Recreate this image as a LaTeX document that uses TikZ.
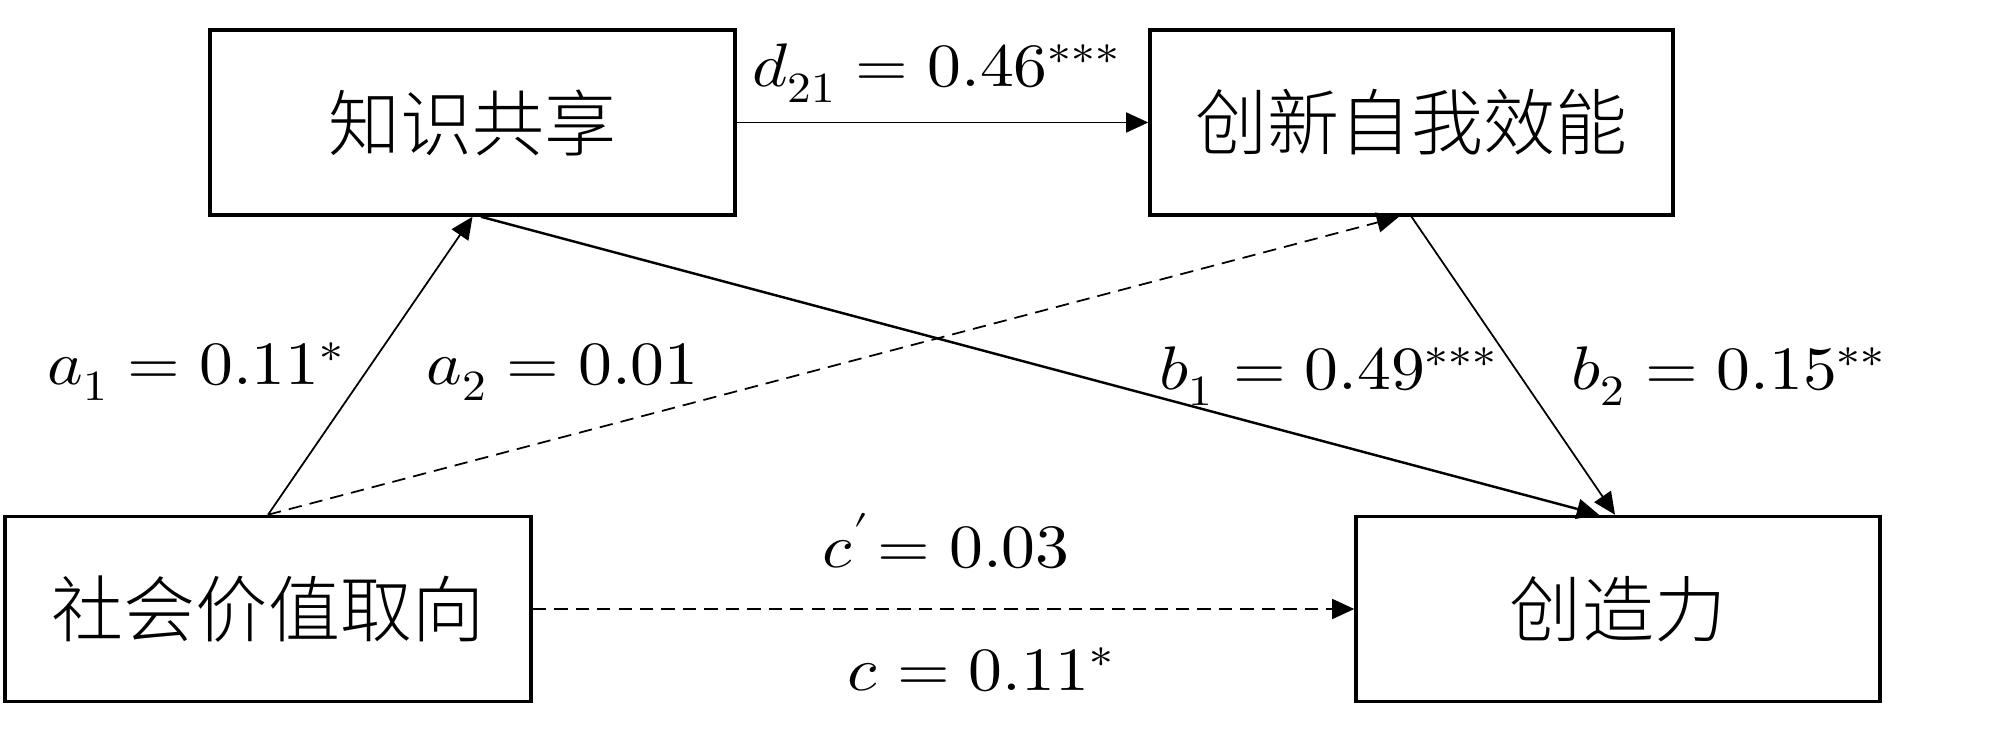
\documentclass[tikz,border=0pt]{standalone}
\usepackage{fontspec}
\usepackage{unicode-math}
\setmathfont{Latin Modern Math}
\usepackage{graphicx}
\newfontfamily\cjk{Noto Sans CJK SC}[UprightFont=* Light]
\usetikzlibrary{arrows.meta,calc}
\begin{document}
\begin{tikzpicture}[x=0.2845pt,y=-0.2845pt,
  box/.style={draw,line width=1pt,minimum width=#1*0.2845pt,minimum height=185*0.2845pt,
    inner sep=0pt,font=\cjk\fontsize{20.5}{24}\selectfont},
  lbl/.style={anchor=base west,inner sep=0pt,font=\fontsize{17.5}{20}\selectfont},
  arr/.style={line width=0.5pt,-{Triangle[length=6.3pt,width=5.7pt]}},
  dsh/.style={arr,dash pattern=on 3.8pt off 2.3pt}]
\useasboundingbox (0,0) rectangle (2000,731);
\node[box=525] (A) at (472.5,122.5) {知识共享};
\node[box=523] (B) at (1411.5,122.5) {创新自我效能};
\node[box=526] (C) at (268,609) {社会价值取向};
\node[box=524] (D) at (1618,609) {创造力};
\draw[arr] (A.east) -- (B.west);
\draw[arr] (C.north) -- (A.south);
\draw[dsh] (C.north) -- ($(B.south)+(-12.5,0)$);
\draw[arr,line width=0.7pt] ($(A.south)+(8.5,0)$) -- ($(D.north)+(-19,0)$);
\draw[arr] (B.south) -- ($(D.north)+(-3,0)$);
\draw[dsh] (C.east) -- (D.west);
\node[lbl] (ld) at (752,87) {\scalebox{1.1}[1]{$d_{21} = 0.46^{***}$}};
\node[lbl] (la1) at (47,385) {\scalebox{1.1}[1]{$a_{1} = 0.11^{*}$}};
\node[lbl] (la2) at (426,385) {\scalebox{1.1}[1]{$a_{2} = 0.01$}};
\node[lbl] (lb1) at (1159,390) {\scalebox{1.1}[1]{$b_{1} = 0.49^{***}$}};
\node[lbl] (lb2) at (1571,390) {\scalebox{1.1}[1]{$b_{2} = 0.15^{**}$}};
\node[lbl] (lc1) at (822,568) {\scalebox{1.1}[1]{$c'\!= 0.03$}};
\node[lbl] (lc) at (847,690) {\scalebox{1.1}[1]{$c = 0.11^{*}$}};
\end{tikzpicture}
\end{document}
